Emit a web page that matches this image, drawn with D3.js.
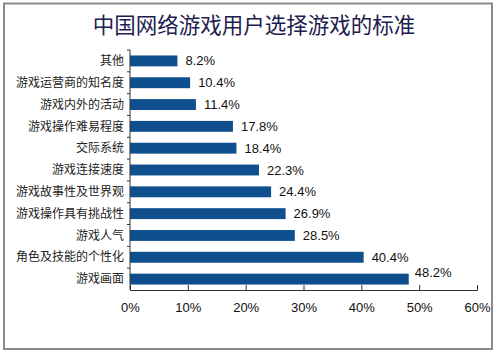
<!DOCTYPE html>
<html><head><meta charset="utf-8">
<script src="https://cdn.jsdelivr.net/npm/d3@7/dist/d3.min.js"></script>
<style>
html,body{margin:0;padding:0;background:#fff;}
svg{display:block;}
</style></head>
<body>
<script>
const categories = ["其他","游戏运营商的知名度","游戏内外的活动","游戏操作难易程度","交际系统","游戏连接速度","游戏故事性及世界观","游戏操作具有挑战性","游戏人气","角色及技能的个性化","游戏画面"];
const values = [8.2,10.4,11.4,17.8,18.4,22.3,24.4,26.9,28.5,40.4,48.2];
const xTicks = [0,10,20,30,40,50,60];
const title = "中国网络游戏用户选择游戏的标准";

(function(){
const W=500,H=356;
const svg=d3.select("body").append("svg").attr("width",W).attr("height",H);
svg.append("rect").attr("x",0).attr("y",0).attr("width",W).attr("height",H).attr("fill","#fff");
svg.append("rect").attr("x",4).attr("y",3.5).attr("width",488).attr("height",345.5)
  .attr("fill","none").attr("stroke","#8a8a8a").attr("stroke-width",2);

svg.append("text").attr("x",254).attr("y",33).attr("text-anchor","middle")
  .attr("font-family","'Noto Sans CJK SC'").attr("font-size",21.5).attr("fill","#1c2050")
  .text(title);

const pl=130, pr=477, pt=50, pb=290;
const x=d3.scaleLinear().domain([0,60]).range([pl,pr]);
const y=d3.scaleBand().domain(categories).range([pt,pb]).paddingInner(0.5).paddingOuter(0.25);

svg.append("g").selectAll("rect").data(categories).join("rect")
  .attr("x",x(0)).attr("y",d=>y(d)).attr("height",y.bandwidth())
  .attr("width",(d,i)=>x(values[i])-x(0)).attr("fill","#0f4f8e");

const ax=svg.append("g").attr("transform",`translate(0,${pb})`)
  .call(d3.axisBottom(x).tickValues(xTicks).tickSize(-5).tickFormat(d=>d+"%").tickPadding(13));
ax.select(".domain").attr("stroke","#333");
ax.selectAll(".tick line").attr("stroke","#333");
ax.selectAll("text").attr("font-family","'Liberation Sans',Arial").attr("font-size",13).attr("fill","#111");

const ay=svg.append("g").attr("transform",`translate(${pl},0)`);
ay.append("line").attr("x1",0).attr("x2",0).attr("y1",pt).attr("y2",pb).attr("stroke","#333");
const step=(pb-pt)/categories.length;
ay.selectAll(".yt").data(d3.range(categories.length)).join("line")
  .attr("x1",-3).attr("x2",0).attr("y1",i=>pt+i*step).attr("y2",i=>pt+i*step).attr("stroke","#333");
ay.selectAll(".yl").data(categories).join("text")
  .attr("x",-6).attr("y",d=>y(d)+y.bandwidth()/2).attr("dy","0.35em").attr("text-anchor","end")
  .attr("font-family","'Noto Sans CJK SC'").attr("font-size",12).attr("fill","#222").text(d=>d);

svg.append("g").selectAll("text").data(categories).join("text")
  .attr("x",(d,i)=>x(values[i])+(i===categories.length-1?6:8))
  .attr("y",(d,i)=>y(d)+y.bandwidth()/2-(i===categories.length-1?7:0)).attr("dy","0.35em")
  .attr("font-family","'Liberation Sans',Arial").attr("font-size",13).attr("fill","#111")
  .text((d,i)=>values[i].toFixed(1)+"%");
})();
</script>
</body></html>
